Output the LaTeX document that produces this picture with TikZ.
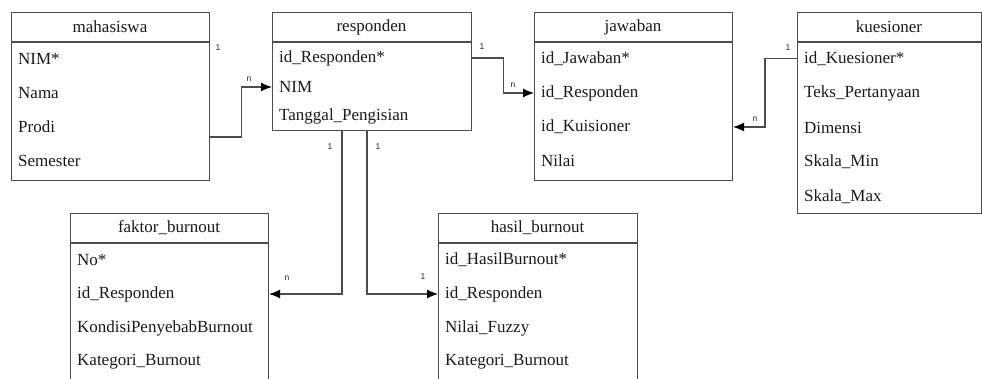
\documentclass[tikz,border=0pt]{standalone}
\usepackage{fontspec}
\setmainfont{Liberation Serif}
\newfontfamily\cardfont{Liberation Sans}
\usetikzlibrary{arrows.meta}

\tikzset{
	tbl/.style={draw=black!70,line width=1.1pt,rectangle,anchor=north west,inner sep=0pt},
	tblline/.style={draw=black!70,line width=1.1pt},
	hdr/.style={inner sep=0pt,font=\fontsize{17}{19}\selectfont,text=black!90},
	attr/.style={anchor=west,inner sep=0pt,font=\fontsize{17}{19}\selectfont,text=black!90},
	fk/.style={draw=black!70,line width=1.1pt,-{Latex[length=11pt,width=9pt,black]}},
	card/.style={inner sep=0pt,font=\cardfont\fontsize{8.5}{9}\selectfont,text=black!85}
}

\begin{document}
\begin{tikzpicture}[x=1pt,y=-1pt]
	\clip (0,0) rectangle (982,379);

	% mahasiswa
	\node[tbl,minimum width=198pt,minimum height=168pt] (mahasiswa) at (11,12) {};
	\draw[tblline] (11,42) -- (209,42);
	\node[hdr] (mahasiswa-title) at (110,27) {mahasiswa};
	\foreach \txt [count=\i] in {NIM*,Nama,Prodi,Semester}
		\node[attr] (mhs\i) at (18,25+34*\i) {\txt};

	% responden
	\node[tbl,minimum width=199pt,minimum height=118pt] (responden) at (272,12) {};
	\draw[tblline] (272,42) -- (471,42);
	\node[hdr] (responden-title) at (371.5,27) {responden};
	\foreach \txt [count=\i] in {id\_Responden*,NIM,Tanggal\_Pengisian}
		\node[attr] (res\i) at (279,29+29*\i) {\txt};

	% jawaban
	\node[tbl,minimum width=198pt,minimum height=168pt] (jawaban) at (534,12) {};
	\draw[tblline] (534,42) -- (732,42);
	\node[hdr] (jawaban-title) at (633,27) {jawaban};
	\foreach \txt [count=\i] in {id\_Jawaban*,id\_Responden,id\_Kuisioner,Nilai}
		\node[attr] (jaw\i) at (541,25+34*\i) {\txt};

	% kuesioner
	\node[tbl,minimum width=184pt,minimum height=201pt] (kuesioner) at (797,12) {};
	\draw[tblline] (797,42) -- (981,42);
	\node[hdr] (kuesioner-title) at (889,27) {kuesioner};
	\foreach \txt [count=\i] in {id\_Kuesioner*,Teks\_Pertanyaan,Dimensi,Skala\_Min,Skala\_Max}
		\node[attr] (kue\i) at (804,24+34.5*\i) {\txt};

	% faktor_burnout
	\node[tbl,minimum width=198pt,minimum height=200pt] (faktor) at (70,213) {};
	\draw[tblline] (70,243) -- (268,243);
	\node[hdr] (faktor-title) at (169,228) {faktor\_burnout};
	\foreach \txt [count=\i] in {No*,id\_Responden,KondisiPenyebabBurnout,Kategori\_Burnout}
		\node[attr] (fak\i) at (77,226+34*\i) {\txt};

	% hasil_burnout
	\node[tbl,minimum width=199pt,minimum height=200pt] (hasil) at (438,213) {};
	\draw[tblline] (438,243) -- (637,243);
	\node[hdr] (hasil-title) at (537.5,228) {hasil\_burnout};
	\foreach \txt [count=\i] in {id\_HasilBurnout*,id\_Responden,Nilai\_Fuzzy,Kategori\_Burnout}
		\node[attr] (has\i) at (445,226+34*\i) {\txt};

	% relations
	\draw[fk] (mahasiswa.east |- 0,137) -- ++(31,0) |- (responden.west |- res2);
	\draw[fk] (responden.east |- res1) -- ++(31,0) |- (jawaban.west |- jaw2);
	\draw[fk] (kuesioner.west |- kue1) -- ++(-32,0) |- (jawaban.east |- jaw3);
	\draw[fk] (responden.south -| 342,0) |- (faktor.east |- fak2);
	\draw[fk] (responden.south -| 367,0) |- (hasil.west |- has2);

	% cardinalities
	\node[card] (c-mhs) at (218,48) {1};
	\node[card] (c-res-mhs) at (249,79) {n};
	\node[card] (c-res-jaw) at (482,47) {1};
	\node[card] (c-jaw-res) at (513,85) {n};
	\node[card] (c-kue) at (788,48) {1};
	\node[card] (c-jaw-kue) at (755,119) {n};
	\node[card] (c-res-fak) at (330,147) {1};
	\node[card] (c-res-has) at (378,147) {1};
	\node[card] (c-fak) at (287,278) {n};
	\node[card] (c-has) at (423,277) {1};
\end{tikzpicture}
\end{document}
